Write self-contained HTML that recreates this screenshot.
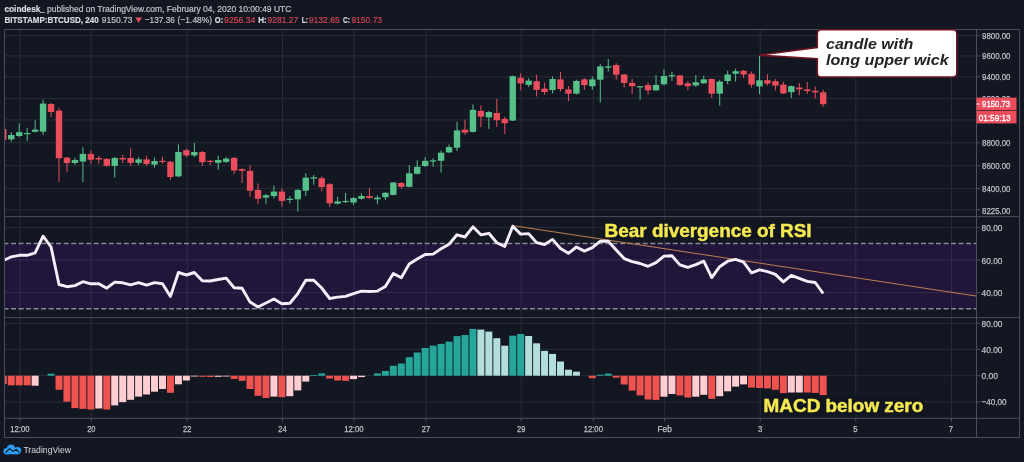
<!DOCTYPE html>
<html><head><meta charset="utf-8"><style>
html,body{margin:0;padding:0;background:#131722;width:1024px;height:462px;overflow:hidden}
svg{display:block}
text{font-family:"Liberation Sans",Arial,sans-serif}
</style></head><body>
<svg width="1024" height="462" viewBox="0 0 1024 462">
<rect x="0" y="0" width="1024" height="462" fill="#131722"/>
<defs>
<clipPath id="cm"><rect x="4.5" y="29.5" width="972" height="187"/></clipPath>
<clipPath id="cr"><rect x="4.5" y="217" width="972" height="100.5"/></clipPath>
<clipPath id="cd"><rect x="4.5" y="318" width="972" height="100"/></clipPath>
</defs>

<path d="M19.9 29.5V418 M91.3 29.5V418 M187.2 29.5V418 M282.5 29.5V418 M353.9 29.5V418 M426 29.5V418 M521.2 29.5V418 M593.3 29.5V418 M664.7 29.5V418 M760.2 29.5V418 M855.8 29.5V418 M951.5 29.5V418 M4.5 35.6H976.5 M4.5 55.9H976.5 M4.5 76.9H976.5 M4.5 98.4H976.5 M4.5 119.9H976.5 M4.5 142.8H976.5 M4.5 165.7H976.5 M4.5 188.7H976.5 M4.5 209.8H976.5 M4.5 227.4H976.5 M4.5 260H976.5 M4.5 292.6H976.5 M4.5 323.3H976.5 M4.5 349.4H976.5 M4.5 375.7H976.5 M4.5 402H976.5" stroke="#292d38" stroke-width="1" fill="none"/>
<rect x="4.5" y="244.5" width="972" height="64.3" fill="#9915ff" fill-opacity="0.11"/>
<path d="M4.5 243.5H976.5M4.5 308.8H976.5" stroke="#8a86a0" stroke-width="1.6" stroke-dasharray="5 2.52" stroke-dashoffset="0.98" fill="none"/>
<g clip-path="url(#cm)">
<rect x="2.79" y="127.0" width="1" height="15.00" fill="#eb4d5c"/>
<rect x="0.09" y="129.0" width="6.4" height="10.80" fill="#eb4d5c"/>
<rect x="10.75" y="132.0" width="1" height="9.50" fill="#56c08b"/>
<rect x="8.05" y="135.0" width="6.4" height="4.40" fill="#56c08b"/>
<rect x="18.71" y="123.6" width="1" height="13.40" fill="#56c08b"/>
<rect x="16.01" y="132.2" width="6.4" height="3.80" fill="#56c08b"/>
<rect x="26.67" y="128.0" width="1" height="13.00" fill="#56c08b"/>
<rect x="23.97" y="133.0" width="6.4" height="1.20" fill="#56c08b"/>
<rect x="34.63" y="120.3" width="1" height="12.20" fill="#56c08b"/>
<rect x="31.93" y="129.6" width="6.4" height="2.20" fill="#56c08b"/>
<rect x="42.59" y="99.7" width="1" height="35.10" fill="#56c08b"/>
<rect x="39.89" y="103.6" width="6.4" height="28.00" fill="#56c08b"/>
<rect x="50.55" y="103.0" width="1" height="14.00" fill="#eb4d5c"/>
<rect x="47.85" y="104.0" width="6.4" height="8.00" fill="#eb4d5c"/>
<rect x="58.51" y="107.8" width="1" height="74.20" fill="#eb4d5c"/>
<rect x="55.81" y="110.6" width="6.4" height="47.60" fill="#eb4d5c"/>
<rect x="66.47" y="157.0" width="1" height="15.30" fill="#eb4d5c"/>
<rect x="63.77" y="157.6" width="6.4" height="5.40" fill="#eb4d5c"/>
<rect x="74.43" y="157.6" width="1" height="7.10" fill="#56c08b"/>
<rect x="71.73" y="160.0" width="6.4" height="3.00" fill="#56c08b"/>
<rect x="82.39" y="147.4" width="1" height="34.60" fill="#56c08b"/>
<rect x="79.69" y="153.9" width="6.4" height="7.60" fill="#56c08b"/>
<rect x="90.35" y="150.6" width="1" height="13.00" fill="#eb4d5c"/>
<rect x="87.65" y="153.9" width="6.4" height="5.80" fill="#eb4d5c"/>
<rect x="98.31" y="156.0" width="1" height="7.60" fill="#eb4d5c"/>
<rect x="95.61" y="158.0" width="6.4" height="1.50" fill="#eb4d5c"/>
<rect x="106.27" y="158.0" width="1" height="9.00" fill="#eb4d5c"/>
<rect x="103.57" y="158.9" width="6.4" height="6.90" fill="#eb4d5c"/>
<rect x="114.23" y="157.0" width="1" height="20.50" fill="#56c08b"/>
<rect x="111.53" y="158.0" width="6.4" height="7.90" fill="#56c08b"/>
<rect x="122.19" y="154.8" width="1" height="8.20" fill="#eb4d5c"/>
<rect x="119.49" y="158.0" width="6.4" height="1.50" fill="#eb4d5c"/>
<rect x="130.15" y="148.4" width="1" height="17.50" fill="#eb4d5c"/>
<rect x="127.45" y="158.0" width="6.4" height="4.80" fill="#eb4d5c"/>
<rect x="138.11" y="157.2" width="1" height="7.80" fill="#56c08b"/>
<rect x="135.41" y="159.4" width="6.4" height="3.40" fill="#56c08b"/>
<rect x="146.07" y="155.8" width="1" height="10.10" fill="#eb4d5c"/>
<rect x="143.37" y="159.4" width="6.4" height="4.60" fill="#eb4d5c"/>
<rect x="154.03" y="157.6" width="1" height="10.10" fill="#56c08b"/>
<rect x="151.33" y="161.0" width="6.4" height="3.60" fill="#56c08b"/>
<rect x="161.99" y="156.7" width="1" height="7.30" fill="#eb4d5c"/>
<rect x="159.29" y="160.8" width="6.4" height="1.20" fill="#eb4d5c"/>
<rect x="169.95" y="161.0" width="1" height="18.70" fill="#eb4d5c"/>
<rect x="167.25" y="161.7" width="6.4" height="15.30" fill="#eb4d5c"/>
<rect x="177.91" y="144.4" width="1" height="32.60" fill="#56c08b"/>
<rect x="175.21" y="152.0" width="6.4" height="24.40" fill="#56c08b"/>
<rect x="185.87" y="148.4" width="1" height="8.80" fill="#eb4d5c"/>
<rect x="183.17" y="150.2" width="6.4" height="5.20" fill="#eb4d5c"/>
<rect x="193.83" y="142.9" width="1" height="14.30" fill="#56c08b"/>
<rect x="191.13" y="152.0" width="6.4" height="3.40" fill="#56c08b"/>
<rect x="201.79" y="151.0" width="1" height="14.90" fill="#eb4d5c"/>
<rect x="199.09" y="152.0" width="6.4" height="10.20" fill="#eb4d5c"/>
<rect x="209.75" y="159.8" width="1" height="5.20" fill="#eb4d5c"/>
<rect x="207.05" y="160.8" width="6.4" height="1.20" fill="#eb4d5c"/>
<rect x="217.71" y="155.8" width="1" height="13.80" fill="#56c08b"/>
<rect x="215.01" y="160.0" width="6.4" height="2.80" fill="#56c08b"/>
<rect x="225.67" y="157.0" width="1" height="6.00" fill="#56c08b"/>
<rect x="222.97" y="158.7" width="6.4" height="3.20" fill="#56c08b"/>
<rect x="233.63" y="157.0" width="1" height="17.10" fill="#eb4d5c"/>
<rect x="230.93" y="157.9" width="6.4" height="12.60" fill="#eb4d5c"/>
<rect x="241.59" y="168.0" width="1" height="15.00" fill="#eb4d5c"/>
<rect x="238.89" y="169.2" width="6.4" height="1.70" fill="#eb4d5c"/>
<rect x="249.55" y="165.2" width="1" height="31.60" fill="#eb4d5c"/>
<rect x="246.85" y="170.9" width="6.4" height="19.80" fill="#eb4d5c"/>
<rect x="257.51" y="183.5" width="1" height="20.20" fill="#eb4d5c"/>
<rect x="254.81" y="190.0" width="6.4" height="8.80" fill="#eb4d5c"/>
<rect x="265.47" y="194.0" width="1" height="9.70" fill="#56c08b"/>
<rect x="262.77" y="195.2" width="6.4" height="2.40" fill="#56c08b"/>
<rect x="273.43" y="185.5" width="1" height="13.00" fill="#56c08b"/>
<rect x="270.73" y="191.6" width="6.4" height="4.40" fill="#56c08b"/>
<rect x="281.39" y="188.4" width="1" height="18.20" fill="#eb4d5c"/>
<rect x="278.69" y="191.6" width="6.4" height="9.30" fill="#eb4d5c"/>
<rect x="289.35" y="196.0" width="1" height="7.30" fill="#56c08b"/>
<rect x="286.65" y="198.8" width="6.4" height="1.20" fill="#56c08b"/>
<rect x="297.31" y="189.0" width="1" height="22.50" fill="#56c08b"/>
<rect x="294.61" y="190.0" width="6.4" height="9.30" fill="#56c08b"/>
<rect x="305.27" y="173.3" width="1" height="22.70" fill="#56c08b"/>
<rect x="302.57" y="177.7" width="6.4" height="13.00" fill="#56c08b"/>
<rect x="313.23" y="175.0" width="1" height="9.70" fill="#56c08b"/>
<rect x="310.53" y="177.3" width="6.4" height="1.30" fill="#56c08b"/>
<rect x="321.19" y="176.5" width="1" height="14.70" fill="#eb4d5c"/>
<rect x="318.49" y="178.2" width="6.4" height="8.90" fill="#eb4d5c"/>
<rect x="329.15" y="183.0" width="1" height="23.90" fill="#eb4d5c"/>
<rect x="326.45" y="184.2" width="6.4" height="19.10" fill="#eb4d5c"/>
<rect x="337.11" y="196.8" width="1" height="7.70" fill="#56c08b"/>
<rect x="334.41" y="201.4" width="6.4" height="2.30" fill="#56c08b"/>
<rect x="345.07" y="192.8" width="1" height="10.20" fill="#56c08b"/>
<rect x="342.37" y="200.9" width="6.4" height="1.20" fill="#56c08b"/>
<rect x="353.03" y="197.0" width="1" height="8.00" fill="#56c08b"/>
<rect x="350.33" y="198.1" width="6.4" height="4.40" fill="#56c08b"/>
<rect x="360.99" y="193.3" width="1" height="6.20" fill="#56c08b"/>
<rect x="358.29" y="196.0" width="6.4" height="2.80" fill="#56c08b"/>
<rect x="368.95" y="187.9" width="1" height="11.10" fill="#eb4d5c"/>
<rect x="366.25" y="196.0" width="6.4" height="2.00" fill="#eb4d5c"/>
<rect x="376.91" y="195.2" width="1" height="8.90" fill="#56c08b"/>
<rect x="374.21" y="197.6" width="6.4" height="1.70" fill="#56c08b"/>
<rect x="384.87" y="192.0" width="1" height="7.80" fill="#56c08b"/>
<rect x="382.17" y="192.8" width="6.4" height="4.40" fill="#56c08b"/>
<rect x="392.83" y="182.0" width="1" height="13.50" fill="#56c08b"/>
<rect x="390.13" y="182.5" width="6.4" height="12.40" fill="#56c08b"/>
<rect x="400.79" y="182.0" width="1" height="6.70" fill="#eb4d5c"/>
<rect x="398.09" y="183.0" width="6.4" height="3.80" fill="#eb4d5c"/>
<rect x="408.75" y="165.2" width="1" height="22.30" fill="#56c08b"/>
<rect x="406.05" y="173.3" width="6.4" height="13.50" fill="#56c08b"/>
<rect x="416.71" y="160.3" width="1" height="14.20" fill="#56c08b"/>
<rect x="414.01" y="166.8" width="6.4" height="7.00" fill="#56c08b"/>
<rect x="424.67" y="157.0" width="1" height="10.00" fill="#56c08b"/>
<rect x="421.97" y="160.8" width="6.4" height="5.20" fill="#56c08b"/>
<rect x="432.63" y="158.2" width="1" height="8.60" fill="#56c08b"/>
<rect x="429.93" y="160.3" width="6.4" height="1.20" fill="#56c08b"/>
<rect x="440.59" y="150.6" width="1" height="21.90" fill="#56c08b"/>
<rect x="437.89" y="152.7" width="6.4" height="8.10" fill="#56c08b"/>
<rect x="448.55" y="144.5" width="1" height="8.50" fill="#56c08b"/>
<rect x="445.85" y="147.1" width="6.4" height="5.30" fill="#56c08b"/>
<rect x="456.51" y="121.7" width="1" height="29.30" fill="#56c08b"/>
<rect x="453.81" y="130.4" width="6.4" height="17.30" fill="#56c08b"/>
<rect x="464.47" y="119.6" width="1" height="15.10" fill="#eb4d5c"/>
<rect x="461.77" y="129.7" width="6.4" height="2.90" fill="#eb4d5c"/>
<rect x="472.43" y="104.4" width="1" height="28.10" fill="#56c08b"/>
<rect x="469.73" y="109.8" width="6.4" height="22.10" fill="#56c08b"/>
<rect x="480.39" y="105.5" width="1" height="21.60" fill="#eb4d5c"/>
<rect x="477.69" y="110.9" width="6.4" height="5.80" fill="#eb4d5c"/>
<rect x="488.35" y="111.0" width="1" height="17.90" fill="#56c08b"/>
<rect x="485.65" y="112.0" width="6.4" height="5.40" fill="#56c08b"/>
<rect x="496.31" y="99.0" width="1" height="28.10" fill="#eb4d5c"/>
<rect x="493.61" y="113.0" width="6.4" height="7.20" fill="#eb4d5c"/>
<rect x="504.27" y="116.7" width="1" height="17.30" fill="#eb4d5c"/>
<rect x="501.57" y="118.9" width="6.4" height="4.30" fill="#eb4d5c"/>
<rect x="512.23" y="75.5" width="1" height="45.50" fill="#56c08b"/>
<rect x="509.53" y="76.2" width="6.4" height="44.40" fill="#56c08b"/>
<rect x="520.19" y="73.4" width="1" height="16.90" fill="#eb4d5c"/>
<rect x="517.49" y="77.8" width="6.4" height="5.60" fill="#eb4d5c"/>
<rect x="528.15" y="78.4" width="1" height="8.70" fill="#56c08b"/>
<rect x="525.45" y="80.6" width="6.4" height="4.30" fill="#56c08b"/>
<rect x="536.11" y="74.7" width="1" height="21.70" fill="#eb4d5c"/>
<rect x="533.41" y="81.2" width="6.4" height="8.70" fill="#eb4d5c"/>
<rect x="544.07" y="82.7" width="1" height="12.00" fill="#eb4d5c"/>
<rect x="541.37" y="88.6" width="6.4" height="3.40" fill="#eb4d5c"/>
<rect x="552.03" y="76.4" width="1" height="16.90" fill="#56c08b"/>
<rect x="549.33" y="79.0" width="6.4" height="11.10" fill="#56c08b"/>
<rect x="559.99" y="71.9" width="1" height="19.50" fill="#eb4d5c"/>
<rect x="557.29" y="79.4" width="6.4" height="9.60" fill="#eb4d5c"/>
<rect x="567.95" y="85.9" width="1" height="15.20" fill="#eb4d5c"/>
<rect x="565.25" y="89.4" width="6.4" height="4.30" fill="#eb4d5c"/>
<rect x="575.91" y="79.7" width="1" height="14.80" fill="#56c08b"/>
<rect x="573.21" y="81.0" width="6.4" height="12.70" fill="#56c08b"/>
<rect x="583.87" y="78.1" width="1" height="11.70" fill="#eb4d5c"/>
<rect x="581.17" y="79.4" width="6.4" height="5.70" fill="#eb4d5c"/>
<rect x="591.83" y="76.4" width="1" height="13.40" fill="#56c08b"/>
<rect x="589.13" y="79.4" width="6.4" height="6.80" fill="#56c08b"/>
<rect x="599.79" y="64.1" width="1" height="38.30" fill="#56c08b"/>
<rect x="597.09" y="66.4" width="6.4" height="13.30" fill="#56c08b"/>
<rect x="607.75" y="58.9" width="1" height="12.70" fill="#56c08b"/>
<rect x="605.05" y="66.4" width="6.4" height="1.30" fill="#56c08b"/>
<rect x="615.71" y="63.4" width="1" height="16.30" fill="#eb4d5c"/>
<rect x="613.01" y="65.1" width="6.4" height="9.60" fill="#eb4d5c"/>
<rect x="623.67" y="74.0" width="1" height="13.50" fill="#eb4d5c"/>
<rect x="620.97" y="74.5" width="6.4" height="8.40" fill="#eb4d5c"/>
<rect x="631.63" y="79.0" width="1" height="15.00" fill="#eb4d5c"/>
<rect x="628.93" y="82.9" width="6.4" height="3.30" fill="#eb4d5c"/>
<rect x="639.59" y="86.0" width="1" height="13.80" fill="#56c08b"/>
<rect x="636.89" y="86.2" width="6.4" height="1.20" fill="#56c08b"/>
<rect x="647.55" y="82.3" width="1" height="12.30" fill="#eb4d5c"/>
<rect x="644.85" y="85.1" width="6.4" height="5.20" fill="#eb4d5c"/>
<rect x="655.51" y="75.1" width="1" height="15.90" fill="#56c08b"/>
<rect x="652.81" y="84.9" width="6.4" height="5.40" fill="#56c08b"/>
<rect x="663.47" y="69.3" width="1" height="16.20" fill="#56c08b"/>
<rect x="660.77" y="76.0" width="6.4" height="8.20" fill="#56c08b"/>
<rect x="671.43" y="71.9" width="1" height="9.10" fill="#56c08b"/>
<rect x="668.73" y="75.1" width="6.4" height="1.30" fill="#56c08b"/>
<rect x="679.39" y="75.0" width="1" height="11.20" fill="#eb4d5c"/>
<rect x="676.69" y="75.5" width="6.4" height="9.40" fill="#eb4d5c"/>
<rect x="687.35" y="81.0" width="1" height="9.10" fill="#eb4d5c"/>
<rect x="684.65" y="83.3" width="6.4" height="2.90" fill="#eb4d5c"/>
<rect x="695.31" y="75.1" width="1" height="11.70" fill="#56c08b"/>
<rect x="692.61" y="82.3" width="6.4" height="3.20" fill="#56c08b"/>
<rect x="703.27" y="75.8" width="1" height="8.20" fill="#56c08b"/>
<rect x="700.57" y="79.4" width="6.4" height="3.90" fill="#56c08b"/>
<rect x="711.23" y="78.5" width="1" height="19.40" fill="#eb4d5c"/>
<rect x="708.53" y="79.0" width="6.4" height="14.70" fill="#eb4d5c"/>
<rect x="719.19" y="79.7" width="1" height="25.90" fill="#56c08b"/>
<rect x="716.49" y="81.6" width="6.4" height="12.10" fill="#56c08b"/>
<rect x="727.15" y="70.6" width="1" height="13.60" fill="#56c08b"/>
<rect x="724.45" y="74.5" width="6.4" height="6.50" fill="#56c08b"/>
<rect x="735.11" y="68.6" width="1" height="13.00" fill="#56c08b"/>
<rect x="732.41" y="71.2" width="6.4" height="2.60" fill="#56c08b"/>
<rect x="743.07" y="70.0" width="1" height="8.10" fill="#eb4d5c"/>
<rect x="740.37" y="70.8" width="6.4" height="3.70" fill="#eb4d5c"/>
<rect x="751.03" y="71.6" width="1" height="15.90" fill="#eb4d5c"/>
<rect x="748.33" y="73.8" width="6.4" height="10.80" fill="#eb4d5c"/>
<rect x="758.99" y="55.2" width="1" height="38.80" fill="#56c08b"/>
<rect x="756.29" y="80.3" width="6.4" height="6.10" fill="#56c08b"/>
<rect x="766.95" y="74.2" width="1" height="11.40" fill="#eb4d5c"/>
<rect x="764.25" y="80.2" width="6.4" height="3.40" fill="#eb4d5c"/>
<rect x="774.91" y="79.1" width="1" height="11.30" fill="#eb4d5c"/>
<rect x="772.21" y="81.2" width="6.4" height="4.40" fill="#eb4d5c"/>
<rect x="782.87" y="81.8" width="1" height="12.20" fill="#eb4d5c"/>
<rect x="780.17" y="84.7" width="6.4" height="8.70" fill="#eb4d5c"/>
<rect x="790.83" y="85.5" width="1" height="12.50" fill="#56c08b"/>
<rect x="788.13" y="86.1" width="6.4" height="6.00" fill="#56c08b"/>
<rect x="798.79" y="82.9" width="1" height="12.40" fill="#eb4d5c"/>
<rect x="796.09" y="87.5" width="6.4" height="1.90" fill="#eb4d5c"/>
<rect x="806.75" y="82.1" width="1" height="11.90" fill="#eb4d5c"/>
<rect x="804.05" y="89.4" width="6.4" height="1.60" fill="#eb4d5c"/>
<rect x="814.71" y="86.6" width="1" height="11.90" fill="#eb4d5c"/>
<rect x="812.01" y="90.8" width="6.4" height="1.50" fill="#eb4d5c"/>
<rect x="822.67" y="89.7" width="1" height="17.00" fill="#eb4d5c"/>
<rect x="819.97" y="92.3" width="6.4" height="11.90" fill="#eb4d5c"/>
</g>
<g clip-path="url(#cr)">
<line x1="512.7" y1="225.6" x2="976" y2="296" stroke="#bf7f52" stroke-width="1"/>
<polyline points="4.50,260.0 11.25,256.8 19.21,255.3 27.17,255.3 35.13,252.9 43.09,236.2 51.05,247.0 59.01,284.5 66.97,286.7 74.93,285.6 82.89,281.7 90.85,283.8 98.81,283.8 106.77,288.2 114.73,282.1 122.69,282.8 130.65,284.9 138.61,282.6 146.57,285.2 154.53,282.6 162.49,283.8 170.45,296.4 178.41,272.5 186.37,275.0 194.33,272.5 202.29,280.7 210.25,281.0 218.21,279.5 226.17,278.1 234.13,287.7 242.09,288.3 250.05,302.1 258.01,307.0 265.97,303.0 273.93,299.0 281.89,303.7 289.85,303.2 297.81,293.6 305.77,280.3 313.73,280.3 321.69,288.0 329.65,298.5 337.61,297.1 345.57,296.4 353.53,293.6 361.49,291.1 369.45,291.5 377.41,291.1 385.37,286.6 393.33,273.5 401.29,277.7 409.25,263.9 417.21,259.1 425.17,254.5 433.13,254.1 441.09,248.8 449.05,244.2 457.01,234.8 464.97,237.0 472.93,226.8 480.89,234.8 488.85,233.3 496.81,242.7 504.77,246.5 512.73,226.2 520.69,234.1 528.65,233.6 536.61,242.7 544.57,244.5 552.53,239.4 560.49,248.5 568.45,253.3 576.41,247.0 584.37,251.1 592.33,247.6 600.29,241.2 608.25,241.2 616.21,250.0 624.17,258.6 632.13,261.7 640.09,263.5 648.05,266.3 656.01,262.6 663.97,256.1 671.93,255.7 679.89,264.9 687.85,267.3 695.81,264.6 703.77,261.2 711.73,277.6 719.69,266.7 727.65,261.2 735.61,259.4 743.57,262.1 751.53,272.8 759.49,269.8 767.45,271.6 775.41,274.4 783.37,281.9 791.33,275.4 799.29,278.4 807.25,281.4 815.21,282.5 823.17,293.5" fill="none" stroke="#f6eefa" stroke-width="2.9" stroke-linejoin="round"/>
</g>
<g clip-path="url(#cd)">
<rect x="-0.21" y="375.70" width="7" height="8.20" fill="#ef5350"/>
<rect x="7.75" y="375.70" width="7" height="9.60" fill="#ef5350"/>
<rect x="15.71" y="375.70" width="7" height="9.60" fill="#ef5350"/>
<rect x="23.67" y="375.70" width="7" height="9.60" fill="#ef5350"/>
<rect x="31.63" y="375.70" width="7" height="10.00" fill="#ffcdd2"/>
<rect x="47.55" y="373.70" width="7" height="2.00" fill="#26a69a"/>
<rect x="55.51" y="375.70" width="7" height="14.10" fill="#ef5350"/>
<rect x="63.47" y="375.70" width="7" height="26.00" fill="#ef5350"/>
<rect x="71.43" y="375.70" width="7" height="32.40" fill="#ef5350"/>
<rect x="79.39" y="375.70" width="7" height="33.20" fill="#ef5350"/>
<rect x="87.35" y="375.70" width="7" height="33.80" fill="#ef5350"/>
<rect x="95.31" y="375.70" width="7" height="32.80" fill="#ffcdd2"/>
<rect x="103.27" y="375.70" width="7" height="33.80" fill="#ef5350"/>
<rect x="111.23" y="375.70" width="7" height="29.70" fill="#ffcdd2"/>
<rect x="119.19" y="375.70" width="7" height="26.40" fill="#ffcdd2"/>
<rect x="127.15" y="375.70" width="7" height="24.10" fill="#ffcdd2"/>
<rect x="135.11" y="375.70" width="7" height="20.90" fill="#ffcdd2"/>
<rect x="143.07" y="375.70" width="7" height="18.80" fill="#ffcdd2"/>
<rect x="151.03" y="375.70" width="7" height="16.00" fill="#ffcdd2"/>
<rect x="158.99" y="375.70" width="7" height="13.30" fill="#ffcdd2"/>
<rect x="166.95" y="375.70" width="7" height="17.10" fill="#ef5350"/>
<rect x="174.91" y="375.70" width="7" height="8.60" fill="#ffcdd2"/>
<rect x="182.87" y="375.70" width="7" height="4.80" fill="#ffcdd2"/>
<rect x="190.83" y="375.70" width="7" height="0.80" fill="#ffcdd2"/>
<rect x="198.79" y="375.70" width="7" height="1.10" fill="#ef5350"/>
<rect x="206.75" y="375.70" width="7" height="1.30" fill="#ef5350"/>
<rect x="214.71" y="375.70" width="7" height="1.10" fill="#ffcdd2"/>
<rect x="222.67" y="375.70" width="7" height="0.80" fill="#ffcdd2"/>
<rect x="230.63" y="375.70" width="7" height="3.20" fill="#ef5350"/>
<rect x="238.59" y="375.70" width="7" height="5.10" fill="#ef5350"/>
<rect x="246.55" y="375.70" width="7" height="13.30" fill="#ef5350"/>
<rect x="254.51" y="375.70" width="7" height="20.10" fill="#ef5350"/>
<rect x="262.47" y="375.70" width="7" height="22.30" fill="#ef5350"/>
<rect x="270.43" y="375.70" width="7" height="20.90" fill="#ffcdd2"/>
<rect x="278.39" y="375.70" width="7" height="21.50" fill="#ef5350"/>
<rect x="286.35" y="375.70" width="7" height="20.50" fill="#ffcdd2"/>
<rect x="294.31" y="375.70" width="7" height="14.70" fill="#ffcdd2"/>
<rect x="302.27" y="375.70" width="7" height="5.90" fill="#ffcdd2"/>
<rect x="310.23" y="375.00" width="7" height="0.80" fill="#26a69a"/>
<rect x="318.19" y="373.40" width="7" height="2.30" fill="#26a69a"/>
<rect x="326.15" y="375.70" width="7" height="2.80" fill="#ef5350"/>
<rect x="334.11" y="375.70" width="7" height="4.80" fill="#ef5350"/>
<rect x="342.07" y="375.70" width="7" height="5.10" fill="#ef5350"/>
<rect x="350.03" y="375.70" width="7" height="3.40" fill="#ffcdd2"/>
<rect x="357.99" y="375.70" width="7" height="1.40" fill="#ffcdd2"/>
<rect x="373.91" y="373.40" width="7" height="2.30" fill="#26a69a"/>
<rect x="381.87" y="370.90" width="7" height="4.80" fill="#26a69a"/>
<rect x="389.83" y="365.80" width="7" height="9.90" fill="#26a69a"/>
<rect x="397.79" y="363.50" width="7" height="12.20" fill="#26a69a"/>
<rect x="405.75" y="357.20" width="7" height="18.50" fill="#26a69a"/>
<rect x="413.71" y="352.50" width="7" height="23.20" fill="#26a69a"/>
<rect x="421.67" y="348.00" width="7" height="27.70" fill="#26a69a"/>
<rect x="429.63" y="345.70" width="7" height="30.00" fill="#26a69a"/>
<rect x="437.59" y="343.90" width="7" height="31.80" fill="#26a69a"/>
<rect x="445.55" y="341.60" width="7" height="34.10" fill="#26a69a"/>
<rect x="453.51" y="336.10" width="7" height="39.60" fill="#26a69a"/>
<rect x="461.47" y="335.00" width="7" height="40.70" fill="#26a69a"/>
<rect x="469.43" y="328.90" width="7" height="46.80" fill="#26a69a"/>
<rect x="477.39" y="329.60" width="7" height="46.10" fill="#b2dfdb"/>
<rect x="485.35" y="331.60" width="7" height="44.10" fill="#b2dfdb"/>
<rect x="493.31" y="338.20" width="7" height="37.50" fill="#b2dfdb"/>
<rect x="501.27" y="345.70" width="7" height="30.00" fill="#b2dfdb"/>
<rect x="509.23" y="335.70" width="7" height="40.00" fill="#26a69a"/>
<rect x="517.19" y="334.00" width="7" height="41.70" fill="#26a69a"/>
<rect x="525.15" y="336.00" width="7" height="39.70" fill="#b2dfdb"/>
<rect x="533.11" y="343.30" width="7" height="32.40" fill="#b2dfdb"/>
<rect x="541.07" y="350.90" width="7" height="24.80" fill="#b2dfdb"/>
<rect x="549.03" y="353.90" width="7" height="21.80" fill="#b2dfdb"/>
<rect x="556.99" y="361.50" width="7" height="14.20" fill="#b2dfdb"/>
<rect x="564.95" y="369.70" width="7" height="6.00" fill="#b2dfdb"/>
<rect x="572.91" y="371.70" width="7" height="4.00" fill="#b2dfdb"/>
<rect x="588.83" y="375.70" width="7" height="2.50" fill="#ef5350"/>
<rect x="596.79" y="374.70" width="7" height="1.00" fill="#26a69a"/>
<rect x="604.75" y="373.60" width="7" height="2.10" fill="#26a69a"/>
<rect x="612.71" y="375.70" width="7" height="2.00" fill="#ef5350"/>
<rect x="620.67" y="375.70" width="7" height="8.80" fill="#ef5350"/>
<rect x="628.63" y="375.70" width="7" height="14.90" fill="#ef5350"/>
<rect x="636.59" y="375.70" width="7" height="19.70" fill="#ef5350"/>
<rect x="644.55" y="375.70" width="7" height="23.80" fill="#ef5350"/>
<rect x="652.51" y="375.70" width="7" height="24.20" fill="#ef5350"/>
<rect x="660.47" y="375.70" width="7" height="21.00" fill="#ffcdd2"/>
<rect x="668.43" y="375.70" width="7" height="18.30" fill="#ffcdd2"/>
<rect x="676.39" y="375.70" width="7" height="19.70" fill="#ef5350"/>
<rect x="684.35" y="375.70" width="7" height="21.80" fill="#ef5350"/>
<rect x="692.31" y="375.70" width="7" height="21.00" fill="#ffcdd2"/>
<rect x="700.27" y="375.70" width="7" height="19.10" fill="#ffcdd2"/>
<rect x="708.23" y="375.70" width="7" height="23.20" fill="#ef5350"/>
<rect x="716.19" y="375.70" width="7" height="20.50" fill="#ffcdd2"/>
<rect x="724.15" y="375.70" width="7" height="15.60" fill="#ffcdd2"/>
<rect x="732.11" y="375.70" width="7" height="10.90" fill="#ffcdd2"/>
<rect x="740.07" y="375.70" width="7" height="8.70" fill="#ffcdd2"/>
<rect x="748.03" y="375.70" width="7" height="11.90" fill="#ef5350"/>
<rect x="755.99" y="375.70" width="7" height="12.30" fill="#ef5350"/>
<rect x="763.95" y="375.70" width="7" height="12.70" fill="#ef5350"/>
<rect x="771.91" y="375.70" width="7" height="14.10" fill="#ef5350"/>
<rect x="779.87" y="375.70" width="7" height="17.40" fill="#ef5350"/>
<rect x="787.83" y="375.70" width="7" height="16.80" fill="#ffcdd2"/>
<rect x="795.79" y="375.70" width="7" height="16.80" fill="#ffcdd2"/>
<rect x="803.75" y="375.70" width="7" height="16.80" fill="#ef5350"/>
<rect x="811.71" y="375.70" width="7" height="17.20" fill="#ef5350"/>
<rect x="819.67" y="375.70" width="7" height="20.60" fill="#ef5350"/>
</g>
<path d="M4.5 29.5H1019.5V437.5H4.5Z M976.5 29.5V437.5 M4.5 216.6H1019.5 M4.5 317.6H1019.5 M4.5 418.3H1019.5" stroke="#4b4f5b" stroke-width="1" fill="none"/>
<path d="M976.5 35.6H980 M976.5 55.9H980 M976.5 76.9H980 M976.5 98.4H980 M976.5 119.9H980 M976.5 142.8H980 M976.5 165.7H980 M976.5 188.7H980 M976.5 209.8H980 M976.5 227.4H980 M976.5 260H980 M976.5 292.6H980 M976.5 323.3H980 M976.5 349.4H980 M976.5 375.7H980 M976.5 402H980 M19.9 418.3V421.5 M91.3 418.3V421.5 M187.2 418.3V421.5 M282.5 418.3V421.5 M353.9 418.3V421.5 M426 418.3V421.5 M521.2 418.3V421.5 M593.3 418.3V421.5 M664.7 418.3V421.5 M760.2 418.3V421.5 M855.8 418.3V421.5 M951.5 418.3V421.5" stroke="#4b4f5b" stroke-width="1" fill="none"/>
<text x="982.1" y="38.9" font-size="9.2" fill="#bec1c9" stroke="#bec1c9" stroke-width="0.25" text-anchor="start" font-weight="normal" textLength="28.4" lengthAdjust="spacingAndGlyphs">9800.00</text>
<text x="982.1" y="59.199999999999996" font-size="9.2" fill="#bec1c9" stroke="#bec1c9" stroke-width="0.25" text-anchor="start" font-weight="normal" textLength="28.4" lengthAdjust="spacingAndGlyphs">9600.00</text>
<text x="982.1" y="80.2" font-size="9.2" fill="#bec1c9" stroke="#bec1c9" stroke-width="0.25" text-anchor="start" font-weight="normal" textLength="28.4" lengthAdjust="spacingAndGlyphs">9400.00</text>
<text x="982.1" y="101.7" font-size="9.2" fill="#bec1c9" stroke="#bec1c9" stroke-width="0.25" text-anchor="start" font-weight="normal" textLength="28.4" lengthAdjust="spacingAndGlyphs">9200.00</text>
<text x="982.1" y="123.2" font-size="9.2" fill="#bec1c9" stroke="#bec1c9" stroke-width="0.25" text-anchor="start" font-weight="normal" textLength="28.4" lengthAdjust="spacingAndGlyphs">9000.00</text>
<text x="982.1" y="146.10000000000002" font-size="9.2" fill="#bec1c9" stroke="#bec1c9" stroke-width="0.25" text-anchor="start" font-weight="normal" textLength="28.4" lengthAdjust="spacingAndGlyphs">8800.00</text>
<text x="982.1" y="169.0" font-size="9.2" fill="#bec1c9" stroke="#bec1c9" stroke-width="0.25" text-anchor="start" font-weight="normal" textLength="28.4" lengthAdjust="spacingAndGlyphs">8600.00</text>
<text x="982.1" y="192.0" font-size="9.2" fill="#bec1c9" stroke="#bec1c9" stroke-width="0.25" text-anchor="start" font-weight="normal" textLength="28.4" lengthAdjust="spacingAndGlyphs">8400.00</text>
<text x="982.1" y="213.70000000000002" font-size="9.2" fill="#bec1c9" stroke="#bec1c9" stroke-width="0.25" text-anchor="start" font-weight="normal" textLength="28.4" lengthAdjust="spacingAndGlyphs">8225.00</text>
<text x="981.6" y="230.9" font-size="9.2" fill="#bec1c9" stroke="#bec1c9" stroke-width="0.25" text-anchor="start" font-weight="normal" textLength="20.8" lengthAdjust="spacingAndGlyphs">80.00</text>
<text x="981.6" y="263.5" font-size="9.2" fill="#bec1c9" stroke="#bec1c9" stroke-width="0.25" text-anchor="start" font-weight="normal" textLength="20.8" lengthAdjust="spacingAndGlyphs">60.00</text>
<text x="981.6" y="296.1" font-size="9.2" fill="#bec1c9" stroke="#bec1c9" stroke-width="0.25" text-anchor="start" font-weight="normal" textLength="20.8" lengthAdjust="spacingAndGlyphs">40.00</text>
<text x="981.6" y="326.6" font-size="9.2" fill="#bec1c9" stroke="#bec1c9" stroke-width="0.25" text-anchor="start" font-weight="normal" textLength="20.8" lengthAdjust="spacingAndGlyphs">80.00</text>
<text x="981.6" y="352.7" font-size="9.2" fill="#bec1c9" stroke="#bec1c9" stroke-width="0.25" text-anchor="start" font-weight="normal" textLength="20.8" lengthAdjust="spacingAndGlyphs">40.00</text>
<text x="981.6" y="378.90000000000003" font-size="9.2" fill="#bec1c9" stroke="#bec1c9" stroke-width="0.25" text-anchor="start" font-weight="normal" textLength="16.4" lengthAdjust="spacingAndGlyphs">0.00</text>
<text x="981.6" y="405.3" font-size="9.2" fill="#bec1c9" stroke="#bec1c9" stroke-width="0.25" text-anchor="start" font-weight="normal" textLength="24.9" lengthAdjust="spacingAndGlyphs">−40.00</text>
<text x="19.9" y="431.7" font-size="9.2" fill="#bec1c9" stroke="#bec1c9" stroke-width="0.25" text-anchor="middle" font-weight="normal" textLength="19.3" lengthAdjust="spacingAndGlyphs">12:00</text>
<text x="91.3" y="431.7" font-size="9.2" fill="#bec1c9" stroke="#bec1c9" stroke-width="0.25" text-anchor="middle" font-weight="normal" textLength="8.3" lengthAdjust="spacingAndGlyphs">20</text>
<text x="187.2" y="431.7" font-size="9.2" fill="#bec1c9" stroke="#bec1c9" stroke-width="0.25" text-anchor="middle" font-weight="normal" textLength="8.3" lengthAdjust="spacingAndGlyphs">22</text>
<text x="282.5" y="431.7" font-size="9.2" fill="#bec1c9" stroke="#bec1c9" stroke-width="0.25" text-anchor="middle" font-weight="normal" textLength="8.3" lengthAdjust="spacingAndGlyphs">24</text>
<text x="353.9" y="431.7" font-size="9.2" fill="#bec1c9" stroke="#bec1c9" stroke-width="0.25" text-anchor="middle" font-weight="normal" textLength="19.3" lengthAdjust="spacingAndGlyphs">12:00</text>
<text x="426" y="431.7" font-size="9.2" fill="#bec1c9" stroke="#bec1c9" stroke-width="0.25" text-anchor="middle" font-weight="normal" textLength="8.3" lengthAdjust="spacingAndGlyphs">27</text>
<text x="521.2" y="431.7" font-size="9.2" fill="#bec1c9" stroke="#bec1c9" stroke-width="0.25" text-anchor="middle" font-weight="normal" textLength="8.3" lengthAdjust="spacingAndGlyphs">29</text>
<text x="593.3" y="431.7" font-size="9.2" fill="#bec1c9" stroke="#bec1c9" stroke-width="0.25" text-anchor="middle" font-weight="normal" textLength="19.3" lengthAdjust="spacingAndGlyphs">12:00</text>
<text x="664.7" y="431.7" font-size="9.2" fill="#bec1c9" stroke="#bec1c9" stroke-width="0.25" text-anchor="middle" font-weight="normal" textLength="14.3" lengthAdjust="spacingAndGlyphs">Feb</text>
<text x="760.2" y="431.7" font-size="9.2" fill="#bec1c9" stroke="#bec1c9" stroke-width="0.25" text-anchor="middle" font-weight="normal" textLength="4.3" lengthAdjust="spacingAndGlyphs">3</text>
<text x="855.5" y="431.7" font-size="9.2" fill="#bec1c9" stroke="#bec1c9" stroke-width="0.25" text-anchor="middle" font-weight="normal" textLength="4.3" lengthAdjust="spacingAndGlyphs">5</text>
<text x="951" y="431.7" font-size="9.2" fill="#bec1c9" stroke="#bec1c9" stroke-width="0.25" text-anchor="middle" font-weight="normal" textLength="4.3" lengthAdjust="spacingAndGlyphs">7</text>
<rect x="976.5" y="97.6" width="40" height="12.6" fill="#eb4d5c"/>
<rect x="976.5" y="110.8" width="40" height="12.6" fill="#eb4d5c"/>
<path d="M976.5 104H979.5" stroke="#fff" stroke-width="1"/>
<text x="982.1" y="107.4" font-size="9.2" fill="#ffffff" stroke="#ffffff" stroke-width="0.3" text-anchor="start" font-weight="normal" textLength="28.1" lengthAdjust="spacingAndGlyphs">9150.73</text>
<text x="978.7" y="120.6" font-size="9.2" fill="#ffffff" stroke="#ffffff" stroke-width="0.3" text-anchor="start" font-weight="normal" textLength="32" lengthAdjust="spacingAndGlyphs">01:59:13</text>
<text x="4.4" y="12" font-size="9.4" fill="#d9dce3" stroke="#d9dce3" stroke-width="0.2" font-weight="bold" textLength="40.6" lengthAdjust="spacingAndGlyphs">coindesk_</text>
<text x="47" y="12" font-size="9.4" fill="#c3c6ce" stroke="#c3c6ce" stroke-width="0.2" textLength="244.4" lengthAdjust="spacingAndGlyphs">published on TradingView.com, February 04, 2020 10:00:49 UTC</text>
<text x="4.4" y="23.4" font-size="9.4" fill="#d9dce3" stroke="#d9dce3" stroke-width="0.2" font-weight="bold" textLength="94.2" lengthAdjust="spacingAndGlyphs">BITSTAMP:BTCUSD, 240</text>
<text x="101.7" y="23.4" font-size="9.4" fill="#c3c6ce" stroke="#c3c6ce" stroke-width="0.2" textLength="30.8" lengthAdjust="spacingAndGlyphs">9150.73</text>
<path d="M135.2 17.4H142L138.6 22.8Z" fill="#eb4d5c"/>
<text x="144.8" y="23.4" font-size="9.4" fill="#c3c6ce" stroke="#c3c6ce" stroke-width="0.2" textLength="30" lengthAdjust="spacingAndGlyphs">−137.36</text>
<text x="177.6" y="23.4" font-size="9.4" fill="#c3c6ce" stroke="#c3c6ce" stroke-width="0.2" textLength="34.5" lengthAdjust="spacingAndGlyphs">(−1.48%)</text>
<text x="214.8" y="23.4" font-size="9.4" fill="#d9dce3" stroke="#d9dce3" stroke-width="0.2" font-weight="bold" textLength="8.4" lengthAdjust="spacingAndGlyphs">O:</text>
<text x="224.1" y="23.4" font-size="9.4" fill="#d04654" stroke="#d04654" stroke-width="0.2" textLength="31.2" lengthAdjust="spacingAndGlyphs">9256.34</text>
<text x="258.2" y="23.4" font-size="9.4" fill="#d9dce3" stroke="#d9dce3" stroke-width="0.2" font-weight="bold" textLength="8.5" lengthAdjust="spacingAndGlyphs">H:</text>
<text x="267.6" y="23.4" font-size="9.4" fill="#d04654" stroke="#d04654" stroke-width="0.2" textLength="30.7" lengthAdjust="spacingAndGlyphs">9281.27</text>
<text x="301.7" y="23.4" font-size="9.4" fill="#d9dce3" stroke="#d9dce3" stroke-width="0.2" font-weight="bold" textLength="6.2" lengthAdjust="spacingAndGlyphs">L:</text>
<text x="308.7" y="23.4" font-size="9.4" fill="#d04654" stroke="#d04654" stroke-width="0.2" textLength="31.2" lengthAdjust="spacingAndGlyphs">9132.65</text>
<text x="343" y="23.4" font-size="9.4" fill="#d9dce3" stroke="#d9dce3" stroke-width="0.2" font-weight="bold" textLength="7" lengthAdjust="spacingAndGlyphs">C:</text>
<text x="351.4" y="23.4" font-size="9.4" fill="#d04654" stroke="#d04654" stroke-width="0.2" textLength="30.7" lengthAdjust="spacingAndGlyphs">9150.73</text>
<path d="M821.3 29.8H952.8Q956.8 29.8 956.8 33.8V73Q956.8 77 952.8 77H821.3Q817.3 77 817.3 73V58.7L758.7 55.2L817.3 47.6V33.8Q817.3 29.8 821.3 29.8Z" fill="#ffffff" stroke="#701420" stroke-width="1.6"/>
<text x="826" y="49.2" font-size="14.8" font-weight="bold" font-style="italic" fill="#232323" textLength="87.4" lengthAdjust="spacingAndGlyphs">candle with</text>
<text x="826" y="65.3" font-size="14.8" font-weight="bold" font-style="italic" fill="#232323" textLength="122.8" lengthAdjust="spacingAndGlyphs">long upper wick</text>
<rect x="603" y="220" width="212" height="18.5" fill="#111520" fill-opacity="0.95"/>
<rect x="761" y="395" width="164" height="19.5" fill="#111520" fill-opacity="0.95"/>
<text x="604.6" y="237.2" font-size="19.2" font-weight="bold" fill="#f5e850" stroke="#f5e850" stroke-width="0.45" textLength="207" lengthAdjust="spacingAndGlyphs">Bear divergence of RSI</text>
<text x="763.6" y="411.9" font-size="18.3" font-weight="bold" fill="#f5e850" stroke="#f5e850" stroke-width="0.45" textLength="159.6" lengthAdjust="spacingAndGlyphs">MACD below zero</text>
<g fill="#2d9cf0"><circle cx="11" cy="448.9" r="4.4"/><circle cx="6.6" cy="451.2" r="3.2"/><circle cx="17.6" cy="450.6" r="3.6"/><rect x="6.6" y="450" width="11" height="4.3"/></g>
<path d="M5.6 452.6L9.6 448.6L13 451.4L16 449.4L19.6 452.6" stroke="#11151f" stroke-width="1.1" fill="none" stroke-linejoin="round"/>
<text x="23.4" y="452.6" font-size="9.8" fill="#d6d9e0" textLength="47.7" lengthAdjust="spacingAndGlyphs">TradingView</text>
</svg></body></html>
